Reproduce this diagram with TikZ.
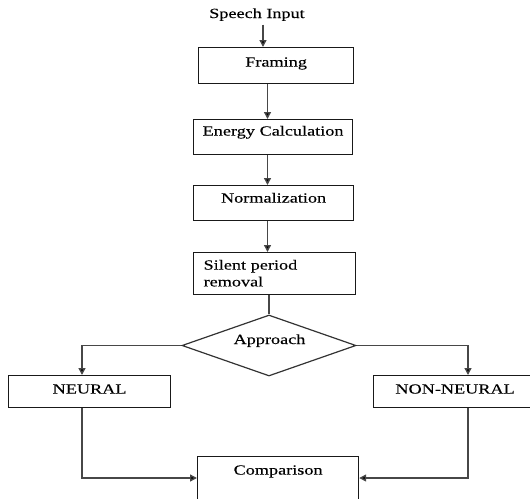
\documentclass[tikz,border=0pt]{standalone}
\usepackage{fontspec}
\setmainfont{Liberation Serif}[FakeStretch=1.3,FakeBold=0.15]
\usetikzlibrary{shapes.geometric,arrows.meta}
\begin{document}
\begin{tikzpicture}[x=1pt,y=-1pt,
  every node/.style={font=\fontsize{14}{16.8}\selectfont, text=black},
  box/.style={draw=black!90, line width=1.2pt, anchor=north west,
    inner xsep=0pt, inner ysep=0pt, align=center},
  conn/.style={draw=black!72, line width=1.4pt},
  arr/.style={conn, -{Triangle[length=7pt,width=7pt,fill=black]}},
]
\useasboundingbox (0,0) rectangle (530,498);
\clip (0,0) rectangle (530,498);

\coordinate (ax) at (263,0);
\coordinate (cx) at (267.5,0);
\coordinate (lx) at (82,0);
\coordinate (rx) at (468,0);
\coordinate (by) at (0,478);

\node[anchor=base] (sp) at (257,18) {Speech Input};
\node[box, text width=155pt, text height=19pt, text depth=17pt] (fr) at (198,47) {Framing};
\node[box, text width=159pt, text height=16pt, text depth=19pt] (en) at (193,119) {Energy Calculation};
\node[box, text width=160pt, text height=17pt, text depth=18pt] (no) at (193,185) {Normalization};
\node[box, align=left, inner xsep=10pt, text width=142pt, text height=17pt, text depth=25pt] (si) at (193,252) {Silent period\\removal};
\node[draw=black!80, line width=1.2pt, diamond, minimum width=174pt, minimum height=61pt, inner sep=0pt] (dia) at (269,345.5) {};
\node[anchor=base] (apr) at (269.5,344) {Approach};
\node[box, text width=162pt, text height=18pt, text depth=14pt] (ne) at (8,375) {NEURAL};
\node[box, text width=163pt, text height=18pt, text depth=14pt] (nn) at (373,375) {NON-NEURAL};
\node[box, text width=161pt, text height=18pt, text depth=50pt] (co) at (197,456) {Comparison};

\draw[arr] (sp.south -| ax) -- (fr.north -| ax);
\draw[arr] (fr.south -| cx) -- (en.north -| cx);
\draw[arr] (en.south -| cx) -- (no.north -| cx);
\draw[arr] (no.south -| cx) -- (si.north -| cx);
\draw[conn] (si.south -| dia.north) -- (dia.north);
\draw[arr] (dia.west) -| (ne.north -| lx);
\draw[arr] (dia.east) -| (nn.north -| rx);
\draw[arr] (ne.south -| lx) |- (co.west |- by);
\draw[arr] (nn.south -| rx) |- (co.east |- by);
\end{tikzpicture}
\end{document}
